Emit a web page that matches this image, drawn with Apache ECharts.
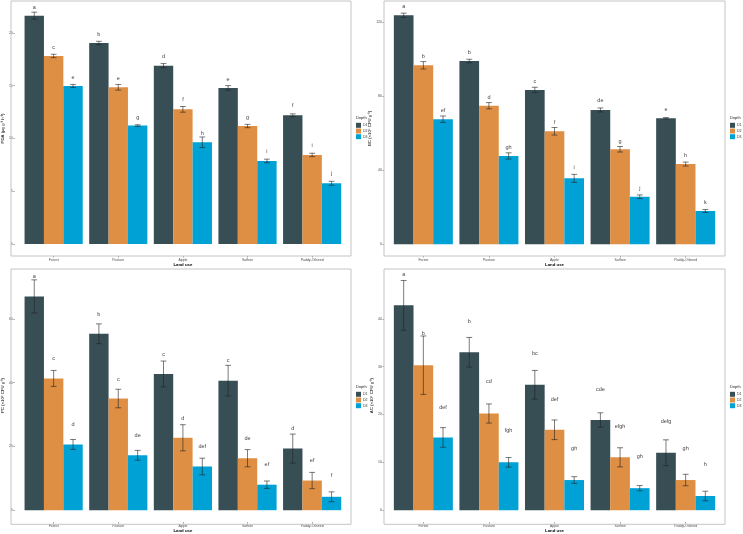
<!DOCTYPE html>
<html><head><meta charset="utf-8">
<script src="https://cdn.jsdelivr.net/npm/echarts@6/dist/echarts.min.js"></script>
<style>html,body{margin:0;padding:0;background:#fff}#c{width:743px;height:534px}</style>
</head><body><div id="c"></div>
<script>
const landUse = ['Forest', 'Pasture', 'Apple', 'Saffron', 'Paddy-Oilseed'];
const depths = ['D1', 'D2', 'D3'];
const depthColors = ['#374E55', '#DF8F44', '#00A1D5'];

// PDA (rows = D1, D2, D3; columns = land use)
const pdaMean = [[21.64, 19.05, 16.9, 14.79, 12.2], [17.82, 14.85, 12.76, 11.18, 8.44], [14.98, 11.22, 9.64, 7.87, 5.75]];
const pdaErr = [[0.33, 0.16, 0.2, 0.22, 0.13], [0.16, 0.27, 0.27, 0.16, 0.16], [0.14, 0.08, 0.5, 0.17, 0.19]];
const pdaLetters = [['a', 'b', 'd', 'e', 'f'], ['c', 'e', 'f', 'g', 'i'], ['e', 'g', 'h', 'i', 'j']];
const pdaLetterY = [[22.43, 19.87, 17.75, 15.6, 13.08], [18.64, 15.67, 13.65, 11.97, 9.32], [15.8, 12.0, 10.5, 8.72, 6.64]];
const pdaTicks = [0, 5, 10, 15, 20];

// BC
const bcMean = [[123.6, 98.9, 83.3, 72.5, 68.0], [96.6, 74.8, 61.0, 51.3, 43.3], [67.5, 47.7, 35.6, 25.7, 18.0]];
const bcErr = [[1.14, 0.96, 1.44, 1.08, 0.42], [2.0, 1.68, 2.04, 1.5, 1.08], [1.74, 1.68, 2.16, 0.96, 0.78]];
const bcLetters = [['a', 'b', 'c', 'de', 'e'], ['b', 'd', 'f', 'g', 'h'], ['ef', 'gh', 'i', 'j', 'k']];
const bcLetterY = [[128.3, 103.6, 88.0, 77.4, 72.5], [101.3, 79.5, 66.0, 55.6, 48.0], [72.1, 52.4, 41.2, 30.2, 22.8]];
const bcTicks = [0, 40, 80, 120];

// PC
const pcMean = [[67.0, 55.3, 42.7, 40.6, 19.3], [41.3, 35.0, 22.7, 16.3, 9.3], [20.6, 17.2, 13.7, 8.0, 4.2]];
const pcErr = [[5.2, 3.1, 4.05, 4.8, 4.55], [2.5, 2.9, 4.1, 2.7, 2.55], [1.55, 1.55, 2.6, 1.15, 1.55]];
const pcLetters = [['a', 'b', 'c', 'c', 'd'], ['c', 'c', 'd', 'de', 'ef'], ['d', 'de', 'def', 'ef', 'f']];
const pcLetterY = [[73.3, 61.5, 48.9, 46.8, 25.6], [47.6, 41.1, 28.9, 22.4, 15.5], [26.8, 23.5, 19.9, 14.2, 10.8]];
const pcTicks = [0, 20, 40, 60];

// AC
const acMean = [[42.8, 33.0, 26.2, 18.85, 12.0], [30.3, 20.2, 16.8, 11.05, 6.3], [15.2, 10.0, 6.3, 4.6, 2.96]];
const acErr = [[5.2, 3.1, 3.0, 1.5, 2.7], [6.1, 2.0, 2.05, 2.0, 1.2], [2.05, 1.0, 0.7, 0.55, 1.0]];
const acLetters = [['a', 'b', 'bc', 'cde', 'defg'], ['b', 'cd', 'def', 'efgh', 'gh'], ['def', 'fgh', 'gh', 'gh', 'h']];
const acLetterY = [[49.3, 39.5, 32.7, 25.3, 18.5], [36.9, 26.8, 23.2, 17.5, 12.8], [21.55, 16.6, 12.8, 11.2, 9.45]];
const acTicks = [0, 10, 20, 30, 40];

const FONT = 'Liberation Sans, Arial, sans-serif';
const W = 743;

const panels = [
  {mean: pdaMean, err: pdaErr, letters: pdaLetters, ly: pdaLetterY, ticks: pdaTicks,
   title: 'PDA (μg g⁻¹ h⁻¹)', box: [11, 1, 351, 256], yMin: -1.14, yMax: 23.03, nameGap: 6.5, legend: [356, 118]},
  {mean: bcMean, err: bcErr, letters: bcLetters, ly: bcLetterY, ticks: bcTicks,
   title: 'BC (×10⁶ CFU g⁻¹)', box: [384, 1, 725, 256], yMin: -6.3, yMax: 131.3, nameGap: 7.5, legend: [730, 118]},
  {mean: pcMean, err: pcErr, letters: pcLetters, ly: pcLetterY, ticks: pcTicks,
   title: 'PC (×10⁵ CFU g⁻¹)', box: [11, 269, 351, 524.3], yMin: -3.73, yMax: 75.6, nameGap: 6.5, legend: [356, 387]},
  {mean: acMean, err: acErr, letters: acLetters, ly: acLetterY, ticks: acTicks,
   title: 'AC (×10⁴ CFU g⁻¹)', box: [384, 269, 725, 524.3], yMin: -2.49, yMax: 50.4, nameGap: 7.5, legend: [730, 387]}
];

const grids = [], xAxes = [], yAxes = [], series = [], legends = [], graphics = [];

panels.forEach((p, pi) => {
  const [x0, y0, x1, y1] = p.box;
  const bw = x1 - x0;
  const pad = bw * 0.1 / 5.2;
  grids.push({left: x0 + pad, right: W - (x1 - pad), top: y0, bottom: 534 - y1, containLabel: false});
  xAxes.push({
    type: 'category', gridIndex: pi, data: landUse,
    name: 'Land use', nameLocation: 'middle', nameGap: 6.5,
    nameTextStyle: {fontSize: 4.3, color: '#000', fontFamily: FONT, fontWeight: 'bold'},
    axisLine: {show: false, onZero: false},
    axisTick: {show: true, alignWithLabel: true, length: 1.5, lineStyle: {color: '#444', width: 0.5}},
    axisLabel: {fontSize: 3.5, color: '#4d4d4d', margin: 2, fontFamily: FONT, interval: 0},
    splitLine: {show: false}
  });
  yAxes.push({
    type: 'value', gridIndex: pi, min: p.yMin, max: p.yMax, offset: pad,
    name: p.title, nameLocation: 'middle', nameGap: p.nameGap, nameRotate: 90,
    nameTextStyle: {fontSize: 4.3, color: '#000', fontFamily: FONT},
    axisLine: {show: false},
    axisTick: {show: true, length: 1.5, customValues: p.ticks, lineStyle: {color: '#444', width: 0.5}},
    axisLabel: {fontSize: 3.5, color: '#4d4d4d', margin: 2, fontFamily: FONT, customValues: p.ticks},
    splitLine: {show: false}
  });
  depths.forEach((d, di) => {
    series.push({
      type: 'bar', name: d, xAxisIndex: pi, yAxisIndex: pi,
      data: p.mean[di], barGap: '0%', barCategoryGap: '10%',
      itemStyle: {color: depthColors[di]}, z: 2, silent: true
    });
  });
  const items = [], letters = [];
  for (let di = 0; di < 3; di++) {
    for (let ci = 0; ci < landUse.length; ci++) {
      items.push([ci, di, p.mean[di][ci], p.err[di][ci], p.ly[di][ci]]);
      letters.push(p.letters[di][ci]);
    }
  }
  series.push({
    type: 'custom', xAxisIndex: pi, yAxisIndex: pi, z: 5, silent: true,
    data: items,
    renderItem: function (params, api) {
      const ci = api.value(0), di = api.value(1), m = api.value(2), e = api.value(3), ly = api.value(4);
      const band = api.size([1, 0])[0];
      const cx = api.coord([ci, 0])[0] + (di - 1) * band * 0.3;
      const yt = api.coord([ci, m + e])[1];
      const yb = api.coord([ci, m - e])[1];
      const yl = api.coord([ci, ly])[1];
      const hw = band * 0.045;
      const st = {stroke: '#222', lineWidth: 0.6};
      return {
        type: 'group',
        children: [
          {type: 'line', shape: {x1: cx, y1: yt, x2: cx, y2: yb}, style: st},
          {type: 'line', shape: {x1: cx - hw, y1: yt, x2: cx + hw, y2: yt}, style: st},
          {type: 'line', shape: {x1: cx - hw, y1: yb, x2: cx + hw, y2: yb}, style: st},
          {type: 'text', style: {text: letters[params.dataIndex], x: cx, y: yl, align: 'center',
            verticalAlign: 'middle', fontSize: 5.5, fill: '#444', fontFamily: FONT}}
        ]
      };
    }
  });
  legends.push({
    data: depths, orient: 'vertical', left: p.legend[0], top: p.legend[1] + 4.8,
    itemWidth: 5, itemHeight: 5, itemGap: 0.7, icon: 'rect', padding: 0,
    textStyle: {fontSize: 3.5, color: '#333', fontFamily: FONT, padding: [0, 0, 0, -3]},
    selectedMode: false
  });
  graphics.push({
    type: 'rect', silent: true, z: 10,
    shape: {x: x0, y: y0, width: x1 - x0, height: y1 - y0},
    style: {fill: 'none', stroke: '#bdbdbd', lineWidth: 0.9}
  });
  graphics.push({
    type: 'text', silent: true, left: p.legend[0], top: p.legend[1] - 2,
    style: {text: 'Depth', fontSize: 4, fill: '#222', fontFamily: FONT}
  });
});

const chart = echarts.init(document.getElementById('c'), null, {renderer: 'canvas'});
chart.setOption({
  backgroundColor: '#fff',
  animation: false,
  grid: grids, xAxis: xAxes, yAxis: yAxes, series: series, legend: legends,
  graphic: graphics
});
</script>
</body></html>
